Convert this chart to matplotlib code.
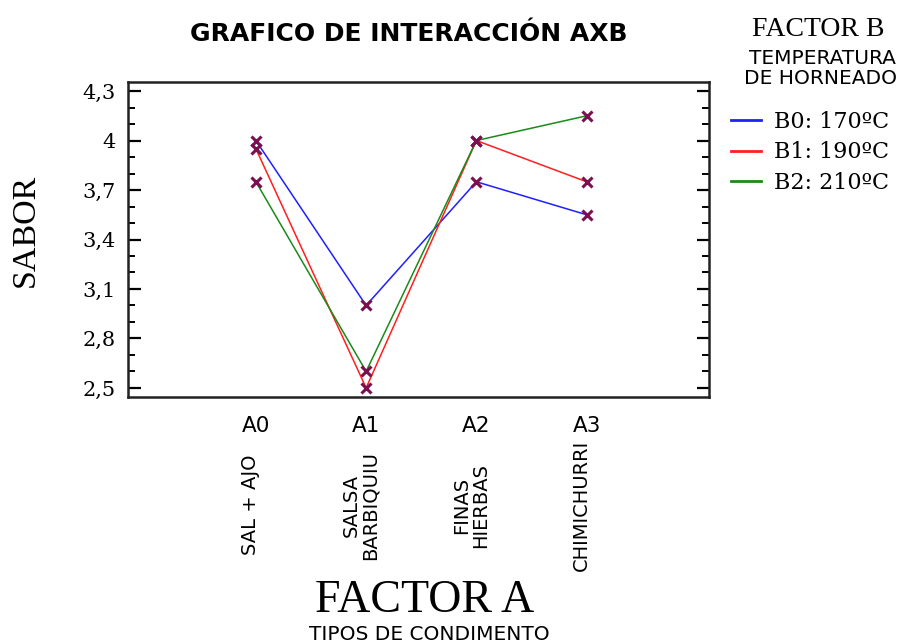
import matplotlib
matplotlib.use("Agg")
import matplotlib.pyplot as plt
from matplotlib.transforms import blended_transform_factory
from matplotlib.ticker import MultipleLocator, FixedLocator, FixedFormatter

# ---- data ----
categories = ["A0", "A1", "A2", "A3"]
category_names = ["SAL + AJO", "SALSA\nBARBIQUIU", "FINAS\nHIERBAS", "CHIMICHURRI"]
series_labels = ["B0: 170ºC", "B1: 190ºC", "B2: 210ºC"]
b0_values = [4.0, 3.0, 3.75, 3.55]
b1_values = [3.95, 2.5, 4.0, 3.75]
b2_values = [3.75, 2.6, 4.0, 4.15]
y_ticks = [2.5, 2.8, 3.1, 3.4, 3.7, 4.0, 4.3]
y_tick_labels = ["2,5", "2,8", "3,1", "3,4", "3,7", "4", "4,3"]

series = [b0_values, b1_values, b2_values]
colors = ["#1f1fff", "#ff1f1f", "#1a8a1a"]
marker_color = "#7a1050"

W, H = 902, 643
fig = plt.figure(figsize=(W / 100, H / 100), dpi=100)
ax = fig.add_axes([128 / W, 1 - 397 / H, (709 - 128) / W, (397 - 82) / H])

x = list(range(len(categories)))
handles = []
for vals, col, lab in zip(series, colors, series_labels):
    (ln,) = ax.plot(x, vals, color=col, lw=1.1, label=lab, zorder=2)
    handles.append(ln)
for vals in series:
    ax.plot(x, vals, linestyle="none", marker="x", color=marker_color,
            markersize=7, markeredgewidth=2.2, zorder=3)

ax.set_xlim(-1.16, 4.11)
ax.set_ylim(2.445, 4.355)

ax.xaxis.set_major_locator(FixedLocator(x))
ax.xaxis.set_major_formatter(FixedFormatter(categories))
ax.tick_params(axis="x", length=0, pad=14, labelsize=15.5)
for t in ax.get_xticklabels():
    t.set_family("DejaVu Sans")

ax.yaxis.set_major_locator(FixedLocator(y_ticks))
ax.yaxis.set_major_formatter(FixedFormatter(y_tick_labels))
ax.yaxis.set_minor_locator(MultipleLocator(0.1))
ax.tick_params(axis="y", which="major", direction="in", length=9, width=1.6,
               left=True, right=True, labelsize=15, pad=9)
ax.tick_params(axis="y", which="minor", direction="in", length=5, width=1.4,
               left=True, right=True)
for t in ax.get_yticklabels():
    t.set_family("DejaVu Serif")

for sp in ax.spines.values():
    sp.set_linewidth(1.8)
    sp.set_color("#222222")

# rotated category names below ticks
trans = blended_transform_factory(ax.transData, fig.transFigure)
for xi, name in zip(x, category_names):
    ax.text(xi - 0.05, 1 - 505 / H, name, transform=trans, rotation=90,
            ha="center", va="center", multialignment="center",
            fontsize=14, family="DejaVu Sans", linespacing=1.0)

# title
fig.text(409 / W, 1 - 34 / H, "GRAFICO DE INTERACCIÓN AXB", ha="center",
         va="center", fontsize=18, fontweight="bold", family="DejaVu Sans")

# y label
fig.text(25 / W, 1 - 230 / H, "SABOR", rotation=90, ha="center", va="center",
         fontsize=24.5, family="Liberation Serif")

# x label
fig.text(425 / W, 1 - 601 / H, "FACTOR A", ha="center", va="center",
         fontsize=33, family="Liberation Serif")
fig.text(429 / W, 1 - 635 / H, "TIPOS DE CONDIMENTO", ha="center", va="center",
         fontsize=14.5, family="DejaVu Sans")

# legend header
fig.text(818 / W, 1 - 30 / H, "FACTOR B", ha="center", va="center",
         fontsize=20, family="Liberation Serif")
fig.text(822 / W, 1 - 58 / H, "TEMPERATURA", ha="center", va="center",
         fontsize=14.5, family="DejaVu Sans")
fig.text(820 / W, 1 - 78 / H, "DE HORNEADO", ha="center", va="center",
         fontsize=14.5, family="DejaVu Sans")

leg = fig.legend(handles=handles, loc="upper left",
                 bbox_to_anchor=(731 / W, 1 - 111 / H), frameon=False,
                 borderpad=0, borderaxespad=0, handlelength=1.35,
                 handletextpad=0.6, labelspacing=0.38,
                 prop={"family": "DejaVu Serif", "size": 16})
for ln in leg.get_lines():
    ln.set_linewidth(2)

fig.savefig("out.png", dpi=100)
